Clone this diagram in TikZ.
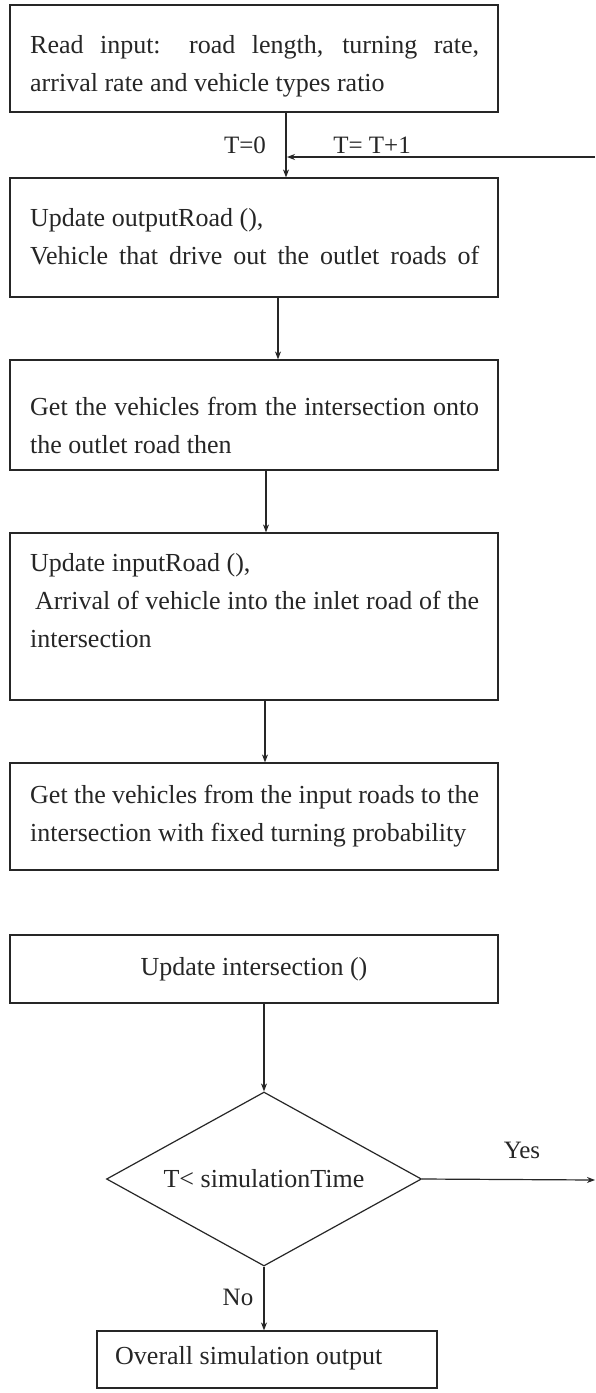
\documentclass[tikz,border=0pt]{standalone}
\usepackage{fontspec}
\setmainfont{Liberation Serif}
\usetikzlibrary{shapes.geometric,arrows.meta}
\tikzset{
  box/.style={draw=black!85, line width=1.2pt, rectangle, inner sep=0pt, minimum width=488pt},
  txt/.style={anchor=west, align=left, inner sep=0pt, font=\fontsize{26}{38}\selectfont, text=black!85},
  lbl/.style={inner sep=0pt, font=\fontsize{25}{28}\selectfont, text=black!85},
  arr/.style={draw=black!85, line width=1.2pt, -{Stealth[length=8pt,width=6pt]}},
  dec/.style={draw=black!85, line width=1.2pt, diamond, aspect=1.81, inner sep=0pt, minimum width=315pt, minimum height=174pt, font=\fontsize{26}{30}\selectfont, text=black!85}
}
\newcommand{\jline}[1]{\makebox[449pt][s]{#1}}
\begin{document}
\begin{tikzpicture}[x=1pt,y=-1pt]
\useasboundingbox[fill=white] (0,0) rectangle (595,1393);
% boxes
\node[box, minimum height=107pt] (b1) at (254,58.5) {};
\node[box, minimum height=119pt] (b2) at (254,237.5) {};
\node[box, minimum height=110pt] (b3) at (254,415) {};
\node[box, minimum height=167pt] (b4) at (254,616.5) {};
\node[box, minimum height=107pt] (b5) at (254,816.5) {};
\node[box, minimum height=68pt, font=\fontsize{26}{30}\selectfont, text=black!85] (b6) at (254,969) {Update intersection ()};
\node[dec] (d) at (264,1179) {T< simulationTime};
\node[box, minimum width=340pt, minimum height=57pt] (b7) at (267,1359.5) {};
% texts
\node[txt] (t1) at (30,66) {\jline{Read input: road length, turning rate,}\\arrival rate and vehicle types ratio};
\node[txt] (t2) at (30,237) {Update outputRoad (),\\\jline{Vehicle that drive out the outlet roads of}};
\node[txt] (t3) at (30,425) {\jline{Get the vehicles from the intersection onto}\\the outlet road then};
\node[txt] (t4) at (30,601) {Update inputRoad (),\\\hspace*{5pt}\makebox[444pt][s]{Arrival of vehicle into the inlet road of the}\\intersection};
\node[txt] (t5) at (30,816) {\jline{Get the vehicles from the input roads to the}\\intersection with fixed turning probability};
\node[txt] (t7) at (115,1358) {Overall simulation output};
% labels
\node[lbl] (l0) at (245,145) {T=0};
\node[lbl] (l1) at (372,145) {T= T+1};
\node[lbl] (ly) at (522,1150) {Yes};
\node[lbl] (ln) at (238,1297) {No};
% connectors
\draw[arr] ([xshift=32pt]b1.south) -- ([xshift=32pt]b2.north);
\draw[arr] ([xshift=24pt]b2.south) -- ([xshift=24pt]b3.north);
\draw[arr] ([xshift=12pt]b3.south) -- ([xshift=12pt]b4.north);
\draw[arr] ([xshift=11pt]b4.south) -- ([xshift=11pt]b5.north);
\draw[arr] (b6.south -| d.north) -- (d.north);
\draw[arr] (d.south) -- (d.south |- b7.north);
\coordinate (ye) at (595,1180);
\coordinate (ls) at (595,157);
\coordinate (lj) at (287,157);
\draw[arr] (d.east) -- (ye);
\draw[arr] (ls) -- (lj);
\end{tikzpicture}
\end{document}
